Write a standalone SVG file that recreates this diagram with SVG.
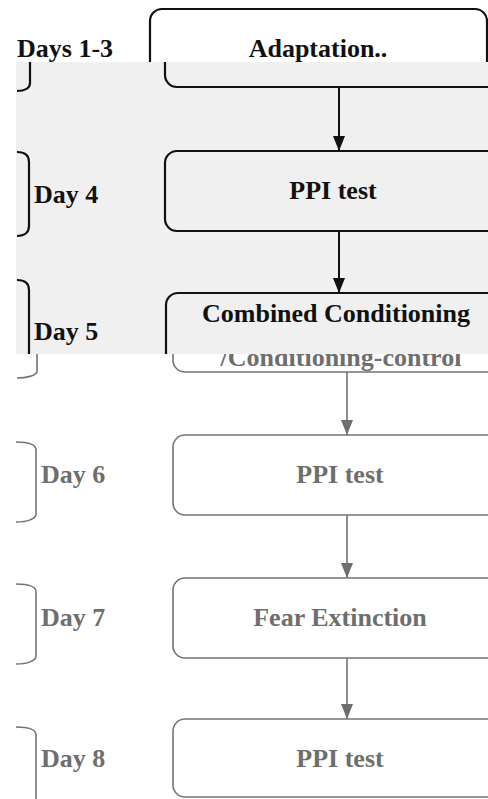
<svg xmlns="http://www.w3.org/2000/svg" width="488" height="799" viewBox="0 0 488 799">
<defs>
<style>
.t{font-family:"Liberation Serif","Times New Roman",serif;font-weight:bold;font-size:26px}
.tk{fill:#111}
.tg{fill:#6e6e6e}
.bk{fill:none;stroke:#111;stroke-width:2.2}
.bg{fill:none;stroke:#747474;stroke-width:1.6}
.ck{stroke:#111;stroke-width:2}
.cg{stroke:#747474;stroke-width:1.6}
</style>
<clipPath id="cTop"><rect x="0" y="0" width="488" height="62"/></clipPath>
<clipPath id="cBand"><rect x="16" y="62" width="472" height="292"/></clipPath>
<clipPath id="cLow"><rect x="0" y="354" width="488" height="445"/></clipPath>
<marker id="ak" viewBox="0 0 15 12" refX="15" refY="6" markerWidth="15" markerHeight="12" markerUnits="userSpaceOnUse" orient="auto"><path d="M0,0 L15,6 L0,12 z" fill="#111"/></marker>
<marker id="ag" viewBox="0 0 15 12" refX="15" refY="6" markerWidth="15" markerHeight="12" markerUnits="userSpaceOnUse" orient="auto"><path d="M0,0 L15,6 L0,12 z" fill="#6e6e6e"/></marker>
</defs>
<rect x="0" y="0" width="488" height="799" fill="#ffffff"/>
<rect id="band" x="16" y="62" width="472" height="292" fill="#f0f0f0"/>

<g id="labels">
<g id="day1-3">
<text class="t tk" x="17" y="57" clip-path="url(#cTop)">Days 1-3</text>
<path class="bk" d="M30,40 L30,83 C30,88 25,91 17,91" clip-path="url(#cBand)"/>
</g>
<g id="day4">
<path class="bk" d="M17,152 C25,152 29,155 29,162 L29,226 C29,232 25,236 17,236"/>
<text class="t tk" x="34" y="203">Day 4</text>
</g>
<g id="day5">
<path class="bk" d="M17,280 C25,280 29,283 29,290 L29,360" clip-path="url(#cBand)"/>
<path class="bg" d="M37,340 L37,371 C37,376 25,378 17,378" clip-path="url(#cLow)"/>
<text class="t tk" x="34" y="340">Day 5</text>
</g>
<g id="day6">
<path class="bg" d="M16,442 C27,442 36,444 36,450 L36,514 C36,519 27,522 16,522"/>
<text class="t tg" x="41" y="483">Day 6</text>
</g>
<g id="day7">
<path class="bg" d="M16,584 C27,584 36,586 36,592 L36,656 C36,661 27,664 16,664"/>
<text class="t tg" x="41" y="626">Day 7</text>
</g>
<g id="day8">
<path class="bg" d="M16,727 C27,727 36,729 36,735 L36,805"/>
<text class="t tg" x="41" y="767">Day 8</text>
</g>
</g>

<g id="n1">
<g clip-path="url(#cTop)">
<rect class="bk" x="150" y="9" width="337" height="80" rx="12"/>
<text class="t tk" x="318" y="57" text-anchor="middle">Adaptation..</text>
</g>
<rect class="bk" x="165" y="7" width="337" height="80" rx="12" clip-path="url(#cBand)"/>
</g>

<g id="n2">
<rect class="bk" x="165" y="151" width="337" height="80" rx="12"/>
<text class="t tk" x="333" y="199" text-anchor="middle">PPI test</text>
</g>

<g id="n3">
<g clip-path="url(#cBand)">
<rect class="bk" x="166" y="293" width="337" height="80" rx="12"/>
<text class="t tk" x="336" y="322" text-anchor="middle">Combined Conditioning</text>
</g>
<g clip-path="url(#cLow)">
<rect class="bg" x="173" y="292" width="337" height="80" rx="12"/>
<text class="t tg" x="341" y="366" text-anchor="middle">/Conditioning-control</text>
</g>
</g>

<g id="n4">
<rect class="bg" x="173" y="435" width="337" height="80" rx="12"/>
<text class="t tg" x="340" y="483" text-anchor="middle">PPI test</text>
</g>

<g id="n5">
<rect class="bg" x="173" y="578" width="337" height="80" rx="12"/>
<text class="t tg" x="340" y="626" text-anchor="middle">Fear Extinction</text>
</g>

<g id="n6">
<rect class="bg" x="173" y="719" width="337" height="78" rx="12"/>
<text class="t tg" x="340" y="767" text-anchor="middle">PPI test</text>
</g>

<g id="connectors">
<line class="ck" x1="339" y1="87" x2="339" y2="151" marker-end="url(#ak)"/>
<line class="ck" x1="339" y1="231" x2="339" y2="293" marker-end="url(#ak)"/>
<line class="cg" x1="347" y1="372" x2="347" y2="435" marker-end="url(#ag)"/>
<line class="cg" x1="347" y1="515" x2="347" y2="578" marker-end="url(#ag)"/>
<line class="cg" x1="347" y1="658" x2="347" y2="719" marker-end="url(#ag)"/>
</g>
</svg>
